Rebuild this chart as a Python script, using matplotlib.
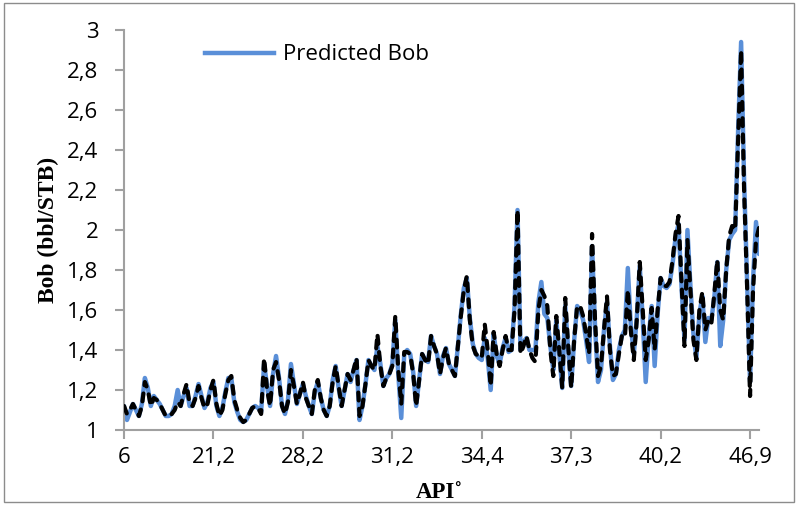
import matplotlib
matplotlib.use("Agg")
import matplotlib.pyplot as plt
from matplotlib.patches import Rectangle
from matplotlib.lines import Line2D

# Measured Bob (black dashed) and predicted Bob (blue), 214 samples sorted by API
measured_bob = [
    1.12, 1.08, 1.10, 1.13, 1.10, 1.07, 1.12, 1.24, 1.20, 1.12,
    1.16, 1.15, 1.13, 1.10, 1.07, 1.07, 1.08, 1.10, 1.14, 1.12,
    1.18, 1.23, 1.13, 1.12, 1.16, 1.22, 1.16, 1.11, 1.13, 1.20,
    1.25, 1.13, 1.07, 1.10, 1.18, 1.25, 1.27, 1.15, 1.10, 1.06,
    1.04, 1.05, 1.08, 1.11, 1.12, 1.11, 1.08, 1.36, 1.20, 1.12,
    1.30, 1.34, 1.25, 1.12, 1.08, 1.14, 1.30, 1.22, 1.13, 1.18,
    1.24, 1.16, 1.12, 1.08, 1.20, 1.25, 1.16, 1.10, 1.07, 1.12,
    1.24, 1.32, 1.22, 1.12, 1.20, 1.28, 1.25, 1.30, 1.36, 1.07,
    1.12, 1.23, 1.35, 1.32, 1.30, 1.48, 1.32, 1.22, 1.26, 1.28,
    1.32, 1.57, 1.30, 1.13, 1.39, 1.39, 1.38, 1.28, 1.12, 1.25,
    1.38, 1.35, 1.33, 1.47, 1.42, 1.38, 1.28, 1.36, 1.41, 1.33,
    1.30, 1.27, 1.42, 1.57, 1.70, 1.77, 1.55, 1.42, 1.38, 1.37,
    1.36, 1.53, 1.40, 1.22, 1.49, 1.38, 1.32, 1.40, 1.47, 1.40,
    1.40, 1.60, 2.10, 1.38, 1.42, 1.47, 1.40, 1.36, 1.34, 1.60,
    1.70, 1.67, 1.62, 1.40, 1.27, 1.57, 1.40, 1.21, 1.66, 1.42,
    1.21, 1.45, 1.62, 1.62, 1.57, 1.48, 1.38, 1.98, 1.55, 1.27,
    1.32, 1.50, 1.67, 1.40, 1.27, 1.28, 1.38, 1.47, 1.46, 1.70,
    1.50, 1.35, 1.55, 1.84, 1.60, 1.35, 1.45, 1.61, 1.40, 1.60,
    1.76, 1.72, 1.72, 1.74, 1.85, 1.98, 2.07, 1.75, 1.42, 1.95,
    1.70, 1.45, 1.35, 1.60, 1.69, 1.50, 1.55, 1.53, 1.68, 1.85,
    1.60, 1.55, 1.80, 1.97, 2.02, 2.00, 2.45, 2.90, 2.20, 1.72,
    1.17, 1.70, 1.95, 2.01,
]
predicted_bob = [
    1.12, 1.05, 1.09, 1.13, 1.10, 1.07, 1.13, 1.26, 1.21, 1.12,
    1.17, 1.15, 1.13, 1.10, 1.07, 1.07, 1.08, 1.12, 1.20, 1.12,
    1.17, 1.21, 1.12, 1.12, 1.17, 1.23, 1.17, 1.11, 1.14, 1.21,
    1.24, 1.12, 1.07, 1.11, 1.19, 1.26, 1.26, 1.14, 1.09, 1.05,
    1.04, 1.05, 1.08, 1.11, 1.12, 1.11, 1.09, 1.33, 1.22, 1.12,
    1.28, 1.37, 1.26, 1.12, 1.08, 1.15, 1.33, 1.23, 1.13, 1.18,
    1.23, 1.17, 1.12, 1.08, 1.19, 1.24, 1.16, 1.10, 1.07, 1.12,
    1.25, 1.32, 1.21, 1.12, 1.20, 1.28, 1.24, 1.30, 1.35, 1.05,
    1.12, 1.23, 1.35, 1.32, 1.30, 1.42, 1.33, 1.22, 1.26, 1.28,
    1.33, 1.55, 1.28, 1.06, 1.38, 1.40, 1.38, 1.29, 1.12, 1.25,
    1.38, 1.35, 1.34, 1.47, 1.42, 1.38, 1.28, 1.37, 1.41, 1.33,
    1.30, 1.27, 1.42, 1.58, 1.71, 1.76, 1.56, 1.43, 1.38, 1.36,
    1.35, 1.46, 1.36, 1.20, 1.48, 1.37, 1.33, 1.41, 1.46, 1.39,
    1.40, 1.62, 2.10, 1.40, 1.44, 1.46, 1.40, 1.40, 1.40, 1.64,
    1.74, 1.58, 1.56, 1.42, 1.30, 1.55, 1.38, 1.21, 1.62, 1.40,
    1.22, 1.45, 1.62, 1.60, 1.55, 1.45, 1.34, 1.92, 1.52, 1.24,
    1.30, 1.50, 1.64, 1.42, 1.25, 1.28, 1.40, 1.47, 1.50, 1.81,
    1.52, 1.38, 1.56, 1.82, 1.55, 1.24, 1.47, 1.62, 1.32, 1.58,
    1.76, 1.72, 1.71, 1.73, 1.83, 1.96, 2.03, 1.72, 1.45, 2.00,
    1.72, 1.48, 1.36, 1.58, 1.67, 1.44, 1.56, 1.55, 1.66, 1.84,
    1.42, 1.55, 1.80, 1.95, 1.98, 2.00, 2.50, 2.94, 2.25, 1.75,
    1.24, 1.75, 2.04, 1.88,
]

x_tick_labels = ["6", "21,2", "28,2", "31,2", "34,4", "37,3", "40,2", "46,9"]
y_ticks = [1.0, 1.2, 1.4, 1.6, 1.8, 2.0, 2.2, 2.4, 2.6, 2.8, 3.0]
y_tick_labels = ["1", "1,2", "1,4", "1,6", "1,8", "2", "2,2", "2,4", "2,6", "2,8", "3"]

TICK_FONT = ["Open Sans", "DejaVu Sans"]
SERIF = ["Liberation Serif", "DejaVu Serif"]
FS = 16

fig = plt.figure(figsize=(7.98, 5.05), dpi=100)
fig.patch.set_facecolor("white")
ax = fig.add_axes([124 / 798, 1 - 430 / 505, (759 - 124) / 798, 400 / 505])

idx = list(range(len(measured_bob)))
ax.plot(idx, predicted_bob, color="#5a8fd8", lw=3.2, solid_joinstyle="round",
        solid_capstyle="round", zorder=2)
ax.plot(idx, measured_bob, color="black", lw=3.0, dashes=(1.9, 2.0),
        dash_capstyle="round", dash_joinstyle="round", zorder=3)

ax.set_xlim(0, len(measured_bob) - 1)
ax.set_ylim(1, 3)
ax.set_yticks(y_ticks)
ax.set_yticklabels(y_tick_labels, fontfamily=TICK_FONT, fontsize=FS)
xt = [30 * k for k in range(len(x_tick_labels))]
ax.set_xticks(xt)
ax.set_xticklabels(x_tick_labels, fontfamily=TICK_FONT, fontsize=FS)

for s in ["top", "right"]:
    ax.spines[s].set_visible(False)
for s in ["left", "bottom"]:
    ax.spines[s].set_color("#a0a0a0")
    ax.spines[s].set_linewidth(1.5)
ax.tick_params(axis="both", colors="#a0a0a0", width=1.5, length=6.3, labelcolor="black")
ax.tick_params(axis="y", pad=12)
ax.tick_params(axis="x", pad=6)

ax.set_ylabel("Bob (bbl/STB)", fontfamily=SERIF, fontweight="bold", fontsize=17, labelpad=6)
fig.text(439 / 798, 1 - 492 / 505, "API\u02da", fontfamily=SERIF, fontweight="bold",
         fontsize=16.5, ha="center", va="center")

handle = Line2D([], [], color="#5a8fd8", lw=3.2)
ax.legend([handle], ["Predicted Bob"], loc="center left",
          bbox_to_anchor=((205 - 124) / 635, 1 - 25 / 400), frameon=False,
          prop={"family": TICK_FONT, "size": FS}, handlelength=3.1,
          handletextpad=0.4, borderpad=0, borderaxespad=0)

fig.patches.append(Rectangle((4 / 798, 3 / 505), 790 / 798, 499 / 505,
                             transform=fig.transFigure, fill=False,
                             edgecolor="#8c8c8c", lw=1.0))

fig.savefig("out.png", dpi=100)
